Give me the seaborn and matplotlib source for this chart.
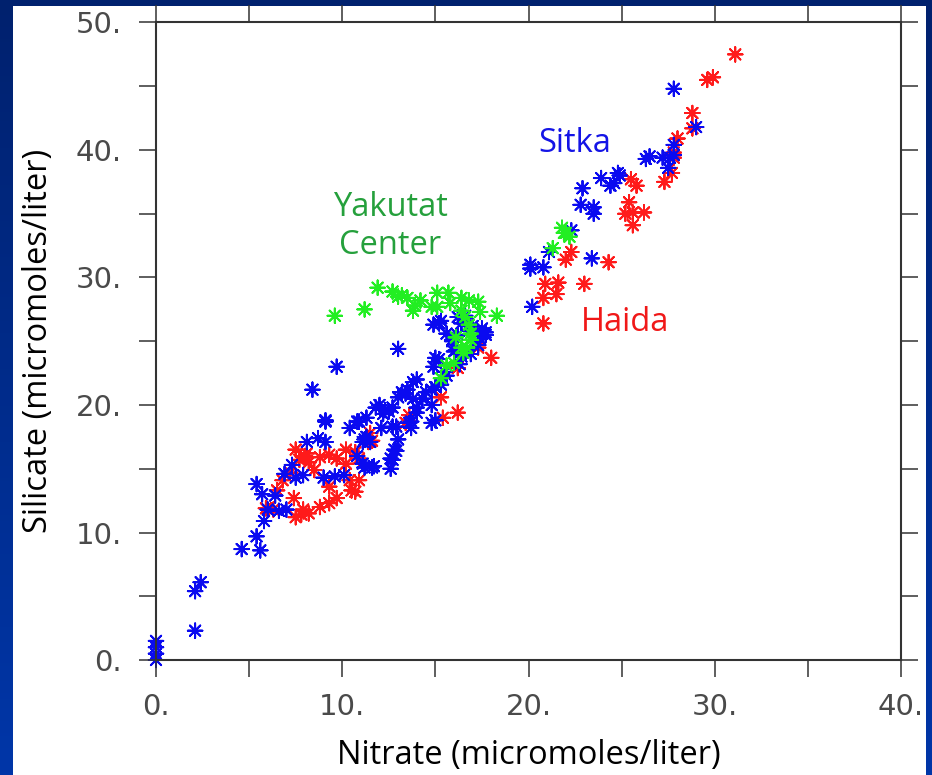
import numpy as np
import pandas as pd
import matplotlib
matplotlib.use("Agg")
import matplotlib.pyplot as plt
import seaborn as sns
from matplotlib.ticker import MultipleLocator, FixedLocator, FixedFormatter

# ---------------- data ----------------
haida_x = [31.1, 29.6, 29.9, 28.8, 28.8, 28.0, 27.8, 27.8, 27.7, 27.3, 25.5, 25.8,
           25.4, 25.2, 25.6, 26.2, 25.6, 22.3, 22.0, 24.3, 20.9, 21.6, 23.0, 20.8,
           21.5, 20.8, 18.0, 17.3, 16.2, 15.3, 15.4, 16.2, 13.6, 13.4, 11.5, 11.4,
           11.6, 8.1, 7.7, 8.2, 8.8, 9.3, 9.7, 10.2, 10.7, 10.9, 7.2, 6.8, 6.5, 7.4,
           9.3, 10.4, 10.9, 10.5, 10.7, 9.7, 9.3, 8.8, 8.2, 7.8, 7.5, 5.9, 6.3,
           10.2, 7.5, 7.9, 8.0, 8.5]
haida_y = [47.5, 45.5, 45.7, 42.9, 41.7, 40.9, 39.8, 39.4, 38.2, 37.5, 37.7, 37.2,
           35.9, 35.0, 35.1, 35.1, 34.1, 32.0, 31.4, 31.2, 29.5, 29.6, 29.5, 28.4,
           28.7, 26.4, 23.7, 24.5, 22.9, 20.6, 19.0, 19.4, 19.2, 18.6, 17.8, 17.1,
           17.2, 16.2, 15.7, 15.5, 15.9, 16.1, 15.8, 16.5, 16.3, 15.8, 14.7, 14.1,
           13.3, 12.7, 13.6, 14.1, 14.1, 13.3, 13.2, 12.7, 12.3, 12.0, 11.5, 11.4,
           11.2, 11.9, 11.8, 15.4, 16.5, 11.8, 16.0, 14.9]

sitka_x = [0.0, 0.0, 0.0, 0.0, 2.1, 2.1, 2.4, 4.6, 5.6, 5.4, 5.8, 5.4, 5.7, 6.0,
           6.6, 7.0, 6.4, 6.9, 7.3, 7.5, 7.9, 8.1, 8.7, 9.1, 9.1, 8.4, 9.0, 9.6,
           10.1, 10.4, 10.8, 11.3, 11.8, 12.2, 11.2, 11.5, 10.8, 11.2, 11.7, 9.7,
           13.0, 12.0, 12.5, 12.9, 13.0, 13.2, 13.5, 13.8, 14.0, 13.7, 14.5, 14.0,
           14.8, 15.0, 15.3, 15.2, 15.5, 15.9, 16.0, 16.3, 16.5, 16.2, 15.2, 16.8,
           17.3, 17.5, 17.7, 16.6, 17.0, 16.9, 12.6, 12.6, 12.9,
           27.8, 29.0, 27.8, 27.8, 27.6, 27.5, 27.2, 26.3, 26.5, 24.8, 24.9, 24.4,
           24.6, 23.9, 22.9, 22.8, 23.5, 23.5, 22.3, 21.1, 20.1, 20.1, 20.8, 23.4,
           20.2, 16.4, 14.9, 15.3, 16.2, 15.6, 15.9, 16.1, 16.4, 15.0, 14.9, 15.6,
           17.7, 17.4, 13.8, 13.0, 12.7, 13.4, 12.3, 14.8, 15.0, 14.3, 14.0, 10.9,
           9.1, 13.6, 13.7, 14.8, 12.7, 12.1, 11.1, 11.3, 12.7, 12.8, 11.6, 11.1]
sitka_y = [0.0, 0.5, 1.0, 1.5, 2.3, 5.4, 6.1, 8.7, 8.6, 9.7, 10.9, 13.8, 13.0, 11.8,
           11.7, 11.8, 12.9, 14.6, 15.3, 14.3, 14.5, 17.1, 17.4, 17.1, 18.7, 21.2,
           14.3, 14.4, 14.5, 18.2, 18.7, 19.0, 19.8, 19.3, 17.3, 17.1, 16.0, 15.1,
           15.2, 23.0, 24.4, 20.0, 19.5, 18.3, 17.3, 21.0, 21.2, 20.5, 19.4, 18.7,
           21.0, 22.0, 20.0, 18.8, 21.6, 23.6, 22.6, 25.0, 24.2, 23.2, 26.8, 25.5,
           26.4, 25.8, 24.7, 26.0, 25.5, 27.0, 26.2, 24.0, 15.8, 15.0, 16.4,
           44.8, 41.8, 40.4, 39.6, 39.4, 38.6, 39.4, 39.3, 39.5, 38.2, 38.0, 37.2,
           37.4, 37.8, 37.0, 35.7, 35.5, 35.0, 33.7, 32.0, 31.0, 30.7, 30.8, 31.5,
           27.7, 26.4, 26.3, 26.6, 26.9, 25.6, 25.1, 24.3, 23.8, 23.7, 23.0, 22.3,
           25.7, 25.2, 21.8, 20.6, 19.8, 20.9, 19.6, 21.2, 21.4, 20.5, 19.8, 18.7,
           18.8, 18.6, 18.2, 18.6, 18.3, 18.2, 17.1, 17.5, 15.7, 16.5, 15.1, 15.4]

yakutat_x = [9.6, 11.2, 11.9, 12.7, 13.2, 13.5, 13.0, 13.9, 14.2, 13.8, 14.8, 15.1,
             15.1, 15.7, 15.8, 16.4, 16.8, 16.4, 16.6, 16.8, 16.9, 16.9, 16.7, 16.5,
             17.3, 17.4, 18.3, 16.0, 15.6, 15.3, 16.4, 16.1,
             21.8, 22.0, 22.2, 21.9, 21.3]
yakutat_y = [27.0, 27.5, 29.2, 28.9, 28.6, 28.4, 28.5, 27.8, 28.2, 27.4, 27.7, 27.7,
             28.8, 28.8, 28.0, 28.4, 28.2, 27.4, 26.9, 26.3, 25.6, 25.1, 24.5, 24.1,
             28.1, 27.3, 27.0, 23.3, 23.1, 22.1, 24.5, 25.3,
             33.9, 33.5, 33.2, 33.5, 32.3]

x_ticks = [0, 10, 20, 30, 40]
x_ticklabels = ["0.", "10.", "20.", "30.", "40."]
y_ticks = [0, 10, 20, 30, 40, 50]
y_ticklabels = ["0.", "10.", "20.", "30.", "40.", "50."]

# ---------------- figure ----------------
W, H = 932, 775
fig = plt.figure(figsize=(W / 100, H / 100), dpi=100)

# background gradient + white slide area
bg = fig.add_axes([0, 0, 1, 1], zorder=-10)
grad = np.linspace(0, 1, 256).reshape(-1, 1)
cmap = matplotlib.colors.LinearSegmentedColormap.from_list("bg", ["#00216e", "#0036a8"])
bg.imshow(grad, aspect="auto", cmap=cmap, extent=[0, 1, 0, 1], origin="upper")
bg.add_patch(plt.Rectangle((13 / W, 0), (926 - 13) / W, (775 - 6) / H,
                           facecolor="white", edgecolor="none"))
bg.set_xlim(0, 1)
bg.set_ylim(0, 1)
bg.axis("off")

ax = fig.add_axes([156 / W, 1 - 660 / H, (901 - 156) / W, (660 - 22.5) / H])
ax.set_facecolor("white")

df = pd.concat([
    pd.DataFrame({"nitrate": haida_x, "silicate": haida_y, "site": "Haida"}),
    pd.DataFrame({"nitrate": sitka_x, "silicate": sitka_y, "site": "Sitka"}),
    pd.DataFrame({"nitrate": yakutat_x, "silicate": yakutat_y, "site": "Yakutat"}),
], ignore_index=True)

palette = {"Haida": "#ff1a1a", "Sitka": "#0a0af0", "Yakutat": "#22ee22"}
sns.scatterplot(data=df, x="nitrate", y="silicate", hue="site", palette=palette,
                marker=(8, 2, 0), s=110, linewidth=1.4, legend=False, ax=ax,
                clip_on=False)

ax.set_xlim(0, 40)
ax.set_ylim(0, 50)

frame_col = "#333333"
for sp in ax.spines.values():
    sp.set_color(frame_col)
    sp.set_linewidth(1.5)

ax.xaxis.set_major_locator(FixedLocator(x_ticks))
ax.xaxis.set_major_formatter(FixedFormatter(x_ticklabels))
ax.yaxis.set_major_locator(FixedLocator(y_ticks))
ax.yaxis.set_major_formatter(FixedFormatter(y_ticklabels))
ax.xaxis.set_minor_locator(MultipleLocator(5))
ax.yaxis.set_minor_locator(MultipleLocator(5))

tick_font = ["DejaVu Sans"]
for which in ("major", "minor"):
    ax.tick_params(axis="both", which=which, direction="out", length=12.5, width=1.1,
                   color=frame_col, top=True, right=True, labeltop=False, labelright=False)
ax.tick_params(axis="x", which="major", pad=11, labelsize=21, labelcolor="#4a4a4a")
ax.tick_params(axis="y", which="major", pad=12, labelsize=21, labelcolor="#4a4a4a")
for lab in ax.get_xticklabels() + ax.get_yticklabels():
    lab.set_family(tick_font)
    lab.set_fontweight("normal")

label_font = ["Open Sans", "DejaVu Sans"]
ax.set_xlabel("Nitrate (micromoles/liter)", fontsize=23.5, family=label_font,
              color="black", labelpad=13)
ax.set_ylabel("Silicate (micromoles/liter)", fontsize=23.5, family=label_font,
              color="black", labelpad=15)

fig.text(575 / W, 1 - 143 / H, "Sitka", ha="center", va="center", fontsize=23.5,
         family=label_font, color="#1414e6")
fig.text(390 / W, 1 - 226 / H, "Yakutat\nCenter", ha="center", va="center", fontsize=23.5,
         family=label_font, color="#25a03c", linespacing=1.2)
fig.text(625 / W, 1 - 322 / H, "Haida", ha="center", va="center", fontsize=23.5,
         family=label_font, color="#f01818")

fig.savefig("out.png", dpi=100)
